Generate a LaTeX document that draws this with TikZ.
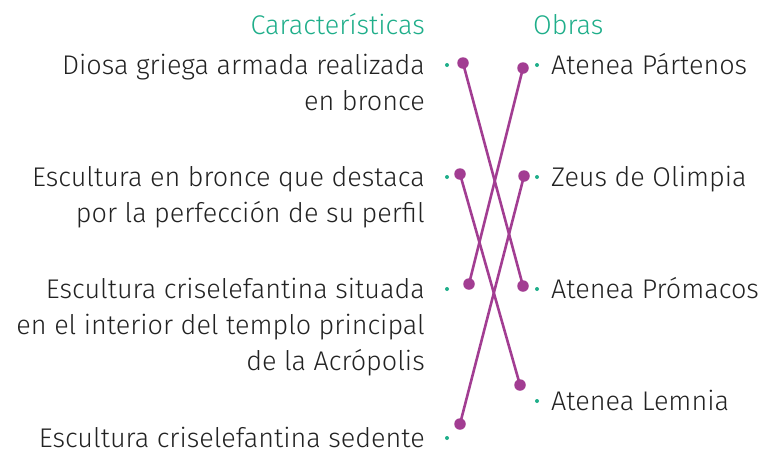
\documentclass[tikz,border=0pt]{standalone}
\usepackage{fontspec}
\setmainfont{Fira Sans}[UprightFont=* Light]
\usetikzlibrary{positioning}
\definecolor{headGreen}{HTML}{1FAE8A}
\definecolor{linkPurple}{HTML}{A23D92}
\definecolor{bodyGray}{HTML}{222222}

\begin{document}
\begin{tikzpicture}[x=1pt,y=-1pt,
    body/.style={inner sep=0pt,font=\fontsize{27}{36}\selectfont,text=bodyGray},
    feature/.style={body,anchor=base east,align=right},
    work/.style={body,anchor=base west},
    heading/.style={body,text=headGreen},
    gdot/.style={circle,fill=headGreen,inner sep=0pt,minimum size=4pt},
    pdot/.style={circle,fill=linkPurple,inner sep=0pt,minimum size=11.5pt},
    link/.style={linkPurple,line width=2.6pt}]
  \useasboundingbox (0,0) rectangle (770,448);

  % column headings
  \node[heading,anchor=base east] (hfeat) at (425,34) {Características};
  \node[heading,anchor=base west] (hwork) at (533,34) {Obras};

  % left column (base = last line)
  \node[feature] (f1) at (425,110) {Diosa griega armada realizada\\en bronce};
  \node[feature] (f2) at (425,222) {Escultura en bronce que destaca\\por la perfección de su perfil};
  \node[feature] (f3) at (425,370) {Escultura criselefantina situada\\en el interior del templo principal\\de la Acrópolis};
  \node[feature] (f4) at (425,447) {Escultura criselefantina sedente};
  \node[gdot] (fd1) at (447,65) {};
  \node[gdot] (fd2) at (447,177) {};
  \node[gdot] (fd3) at (447,289) {};
  \node[gdot] (fd4) at (447,438) {};

  % right column
  \node[work] (w1) at (551,74) {Atenea Pártenos};
  \node[work] (w2) at (551,186) {Zeus de Olimpia};
  \node[work] (w3) at (551,298) {Atenea Prómacos};
  \node[work] (w4) at (551,410) {Atenea Lemnia};
  \node[gdot] (wd1) at (537,65) {};
  \node[gdot] (wd2) at (537,177) {};
  \node[gdot] (wd3) at (537,289) {};
  \node[gdot] (wd4) at (537,401) {};

  % answer ends
  \node[pdot] (fa1) at (463,63) {};
  \node[pdot] (fa2) at (460,174) {};
  \node[pdot] (fa3) at (469,284) {};
  \node[pdot] (fa4) at (460,424) {};
  \node[pdot] (wa1) at (523,68) {};
  \node[pdot] (wa2) at (524,176) {};
  \node[pdot] (wa3) at (523,286) {};
  \node[pdot] (wa4) at (520,385) {};

  \draw[link] (fa1.center) -- (wa3.center);
  \draw[link] (fa2.center) -- (wa4.center);
  \draw[link] (fa3.center) -- (wa1.center);
  \draw[link] (fa4.center) -- (wa2.center);
\end{tikzpicture}
\end{document}
